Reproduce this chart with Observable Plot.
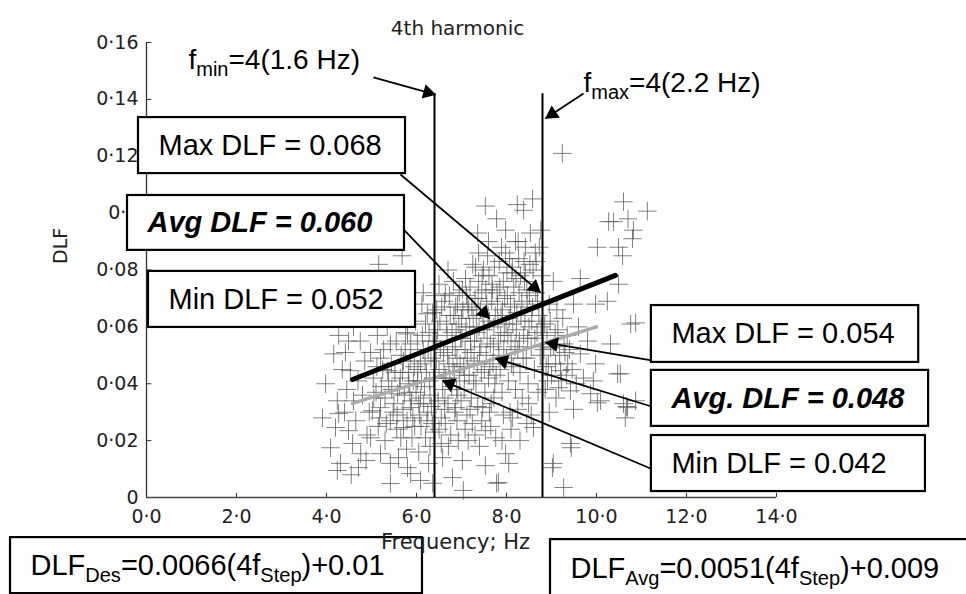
<!DOCTYPE html>
<html><head><meta charset="utf-8">
<script src="https://cdn.jsdelivr.net/npm/d3@7"></script>
<script src="https://cdn.jsdelivr.net/npm/@observablehq/plot@0.6"></script>
<style>body{margin:0;background:#fff} svg{display:block}</style>
</head><body><div id="chart"></div>
<script>
// ---- text ----
const title = "4th harmonic";
const xLabel = "Frequency; Hz";
const yLabel = "DLF";
const xTicks = [0, 2, 4, 6, 8, 10, 12, 14];
const xTickLabels = ["0·0", "2·0", "4·0", "6·0", "8·0", "10·0", "12·0", "14·0"];
const yTicks = [0, 0.02, 0.04, 0.06, 0.08, 0.1, 0.12, 0.14, 0.16];
const yTickLabels = ["0", "0·02", "0·04", "0·06", "0·08", "0·1", "0·12", "0·14", "0·16"];

// ---- scatter (frequency Hz, DLF) ----
const scatter = [
 [3.91,0.028],[3.98,0.040],[4.09,0.0175],[4.16,0.0505],[4.20,0.0246],[4.24,0.034],[4.24,0.0095],[4.27,0.0295],[4.27,0.057],[4.31,0.012],[4.42,0.051],[4.49,0.055],[4.49,0.0235],[4.45,0.038],[4.35,0.045],[4.4,0.03],
 [4.53,0.0446],[4.58,0.019],[4.6,0.034],[4.71,0.0105],[4.76,0.0154],[4.65,0.027],[4.7,0.041],[4.8,0.036],[4.85,0.048],[4.9,0.022],[4.95,0.03],[4.98,0.051],[4.98,0.021],[4.6,0.06],[4.75,0.055],[4.88,0.013],[4.55,0.008],
 [5.02,0.0305],[5.04,0.042],[5.13,0.057],[5.16,0.082],[5.2,0.049],[5.2,0.0316],[5.2,0.0154],[5.1,0.037],[5.15,0.025],[5.25,0.045],[5.3,0.035],[5.3,0.02],[5.36,0.0446],[5.42,0.054],[5.42,0.027],[5.42,0.012],[5.42,0.0049],[5.35,0.06],[5.45,0.038],[5.48,0.03],[5.05,0.063],[5.28,0.066],[5.4,0.072],
 [5.56,0.024],[5.58,0.0365],[5.6,0.0646],[5.64,0.042],[5.64,0.0656],[5.66,0.05],[5.7,0.031],[5.71,0.075],[5.71,0.048],[5.71,0.0246],[5.76,0.058],[5.78,0.017],[5.8,0.0575],[5.8,0.0105],[5.82,0.044],[5.85,0.037],[5.87,0.054],[5.87,0.0316],[5.87,0.0084],[5.9,0.021],[5.92,0.028],[5.95,0.046],[5.55,0.055],[5.6,0.014],[5.98,0.062],[5.68,0.085],
 [6.02,0.055],[6.02,0.041],[6.05,0.033],[6.09,0.047],[6.09,0.035],[6.09,0.006],[6.1,0.025],[6.12,0.068],[6.15,0.052],[6.18,0.039],[6.2,0.021],[6.22,0.044],[6.24,0.0646],[6.25,0.03],[6.27,0.012],[6.28,0.058],[6.3,0.036],[6.32,0.049],[6.35,0.026],[6.36,0.065],[6.36,0.005],[6.38,0.042],[6.05,0.016],[6.15,0.072],[6.3,0.018],[6.2,0.061],[6.4,0.071],
 [6.45,0.055],[6.48,0.034],[6.5,0.045],[6.52,0.062],[6.55,0.028],[6.58,0.014],[6.58,0.038],[6.6,0.051],[6.62,0.069],[6.64,0.0716],[6.64,0.026],[6.65,0.042],[6.68,0.057],[6.7,0.033],[6.72,0.047],[6.75,0.064],[6.76,0.022],[6.78,0.039],[6.8,0.007],[6.8,0.053],[6.82,0.076],[6.84,0.044],[6.85,0.03],[6.87,0.067],[6.87,0.0316],[6.88,0.059],[6.9,0.049],[6.92,0.036],[6.93,0.02],[6.95,0.072],[6.96,0.041],[6.98,0.056],[7.0,0.063],[6.5,0.075],[6.7,0.08],[6.55,0.019],[6.45,0.066],
 [7.02,0.073],[7.02,0.013],[7.04,0.0025],[7.05,0.046],[7.06,0.038],[7.08,0.052],[7.09,0.077],[7.1,0.06],[7.12,0.029],[7.14,0.068],[7.16,0.066],[7.17,0.043],[7.2,0.055],[7.22,0.035],[7.24,0.026],[7.25,0.082],[7.26,0.063],[7.28,0.048],[7.3,0.07],[7.31,0.081],[7.32,0.04],[7.34,0.058],[7.36,0.093],[7.36,0.032],[7.38,0.086],[7.38,0.076],[7.4,0.051],[7.42,0.066],[7.44,0.044],[7.45,0.072],[7.47,0.0316],[7.49,0.08],[7.5,0.059],[7.52,0.037],[7.53,0.0112],[7.53,0.0235],[7.53,0.1025],[7.55,0.05],[7.56,0.068],[7.58,0.085],[7.6,0.09],[7.6,0.042],[7.15,0.02],[7.4,0.018],
 [7.62,0.062],[7.64,0.054],[7.66,0.033],[7.68,0.075],[7.69,0.073],[7.7,0.047],[7.72,0.06],[7.74,0.04],[7.76,0.021],[7.78,0.098],[7.78,0.005],[7.8,0.068],[7.82,0.0053],[7.82,0.055],[7.84,0.083],[7.86,0.045],[7.88,0.064],[7.9,0.037],[7.93,0.076],[7.95,0.058],[7.98,0.086],[7.98,0.0154],[7.98,0.094],[8.0,0.049],[8.02,0.071],[8.04,0.041],[8.06,0.063],[8.08,0.03],[8.1,0.055],[8.12,0.079],[8.13,0.081],[8.13,0.028],[8.15,0.046],[8.18,0.067],[8.2,0.09],[8.2,0.038],[7.65,0.025],[7.9,0.02],[8.05,0.012],
 [8.22,0.059],[8.24,0.103],[8.25,0.052],[8.27,0.084],[8.28,0.072],[8.3,0.044],[8.32,0.064],[8.35,0.035],[8.38,0.101],[8.38,0.057],[8.4,0.076],[8.42,0.088],[8.42,0.079],[8.44,0.049],[8.46,0.068],[8.48,0.04],[8.49,0.033],[8.5,0.06],[8.52,0.082],[8.55,0.053],[8.58,0.105],[8.58,0.067],[8.6,0.0246],[8.62,0.045],[8.64,0.086],[8.65,0.072],[8.68,0.058],[8.7,0.037],[8.72,0.064],[8.75,0.05],[8.76,0.094],[8.78,0.078],[8.3,0.02],[8.55,0.029],
 [8.85,0.061],[8.88,0.046],[8.91,0.041],[8.95,0.068],[8.98,0.0526],[9.02,0.0105],[9.04,0.076],[9.04,0.012],[9.08,0.058],[9.1,0.035],[9.16,0.0386],[9.2,0.0446],[9.24,0.121],[9.25,0.063],[9.27,0.0035],[9.3,0.051],[9.36,0.047],[9.42,0.0375],[9.42,0.019],[9.44,0.0175],[9.49,0.068],[9.49,0.031],[9.12,0.066],[9.35,0.057],[8.95,0.03],
 [9.64,0.077],[9.64,0.0505],[9.71,0.042],[9.8,0.055],[9.87,0.0365],[9.93,0.041],[9.98,0.068],[9.98,0.047],[10.02,0.088],[10.02,0.0333],[10.09,0.034],[10.24,0.069],[10.27,0.097],[10.31,0.054],[10.38,0.097],[10.47,0.0435],[10.49,0.088],[10.49,0.075],[10.53,0.0435],[10.58,0.085],[10.6,0.104],[10.6,0.033],[10.64,0.028],[10.67,0.032],[10.69,0.0316],[10.7,0.098],[10.76,0.061],[10.8,0.091],[10.82,0.094],[10.87,0.034],[10.87,0.0614],[11.13,0.1007],[11.38,0.0516],[9.6,0.06],
 [6.44,0.048],[6.47,0.059],[6.53,0.052],[6.56,0.067],[6.61,0.044],[6.63,0.035],[6.67,0.061],[6.69,0.05],[6.73,0.071],[6.74,0.042],[6.79,0.058],[6.81,0.046],[6.83,0.064],[6.86,0.052],[6.89,0.038],[6.91,0.068],[6.94,0.061],[6.97,0.047],[6.99,0.034],[7.01,0.056],[7.03,0.066],[7.07,0.043],[7.11,0.071],[7.13,0.049],[7.18,0.06],[7.19,0.074],[7.21,0.051],[7.23,0.067],[7.27,0.041],[7.29,0.055],[7.33,0.064],[7.35,0.047],[7.37,0.07],[7.39,0.06],[7.43,0.053],[7.46,0.078],[7.48,0.064],[7.51,0.045],[7.54,0.073],[7.57,0.056],[7.59,0.064],[7.61,0.078],[7.63,0.046],[7.67,0.069],[7.71,0.053],[7.73,0.081],[7.75,0.064],[7.77,0.043],[7.79,0.072],[7.81,0.062],[7.83,0.05],[7.85,0.074],[7.87,0.057],[7.89,0.088],[7.91,0.066],[7.94,0.052],[7.96,0.07],[7.99,0.061],[8.01,0.079],[8.03,0.057],[8.07,0.084],[8.09,0.068],[8.11,0.047],[8.14,0.061],[8.16,0.074],[8.19,0.053],[8.21,0.077],[8.23,0.065],[8.26,0.09],[8.29,0.055],[8.31,0.078],[8.34,0.069],[8.37,0.049],[8.39,0.083],[8.41,0.062],[8.45,0.073],[8.47,0.056],[8.51,0.071],[8.53,0.093],[8.56,0.062],[8.59,0.08],[8.63,0.056],[8.66,0.083],[8.69,0.069],[8.73,0.088],[8.77,0.06],
 [5.05,0.035],[5.12,0.046],[5.18,0.028],[5.22,0.039],[5.27,0.052],[5.33,0.026],[5.38,0.041],[5.44,0.047],[5.5,0.033],[5.52,0.044],[5.57,0.029],[5.62,0.039],[5.65,0.021],[5.69,0.044],[5.73,0.036],[5.75,0.052],[5.79,0.027],[5.83,0.04],[5.86,0.048],[5.89,0.034],[5.93,0.041],[5.96,0.025],[5.99,0.037],[6.03,0.045],[6.07,0.029],[6.11,0.041],[6.13,0.057],[6.16,0.033],[6.19,0.048],[6.23,0.027],[6.26,0.052],[6.29,0.041],[6.33,0.032],[6.37,0.055],[6.39,0.023],
 [8.83,0.052],[8.86,0.038],[8.9,0.057],[8.93,0.047],[8.97,0.062],[9.0,0.043],[9.05,0.053],[9.09,0.047],[9.14,0.059],[9.18,0.05],[9.22,0.041],[9.28,0.054],[9.33,0.043],[9.4,0.052],[9.46,0.045],[9.55,0.04],
 [6.5,0.024],[6.62,0.031],[6.71,0.018],[6.9,0.027],[7.08,0.024],[7.19,0.031],[7.3,0.022],[7.45,0.027],[7.62,0.03],[7.72,0.035],[7.93,0.029],[8.1,0.024],[8.25,0.031],[8.45,0.026]
];

// ---- fitted lines (endpoints) ----
const desLineX = [4.58, 10.42];
const desLineY = [0.0415, 0.0781];
const avgLineX = [4.58, 10.0];
const avgLineY = [0.0331, 0.060];

// ---- frequency bounds ----
const boundFreq = [6.4, 8.8];
const boundTop = [0.142, 0.142];
const fLabels = ["f_{min}=4(1.6 Hz)", "f_{max}=4(2.2 Hz)"];
const fLabelX = [0.933, 9.711];
const fLabelY = [0.154, 0.1456];

// ---- annotation boxes ----
const boxLabels = ["Max DLF = 0.068", "Avg DLF = 0.060", "Min DLF = 0.052",
  "Max DLF = 0.054", "Avg. DLF = 0.048", "Min DLF = 0.042",
  "DLF_{Des}=0.0066(4f_{Step})+0.01", "DLF_{Avg}=0.0051(4f_{Step})+0.009"];
const boxLeft   = [-0.178, -0.422, 0.044, 11.22, 11.22, 11.22, -3.022, 8.978];
const boxRight  = [5.756, 5.733, 5.978, 17.16, 17.38, 17.31, 6.133, 18.6];
const boxBottom = [0.1139, 0.0869, 0.0598, 0.0475, 0.0250, 0.0021, -0.0338, -0.038];
const boxTop    = [0.1336, 0.1062, 0.0795, 0.0675, 0.0447, 0.0218, -0.0141, -0.0148];
const boxBold   = [false, true, false, false, true, false, false, false];
const boxTextMid = [0.12375, 0.0966, 0.0697, 0.0575, 0.0349, 0.0120, -0.0240, -0.0252];

// ---- arrows (from box to target) ----
const arrowX1 = [5.644, 5.733, 11.222, 11.222, 11.2, 5.044, 9.711];
const arrowY1 = [0.1136, 0.0939, 0.0482, 0.0320, 0.0102, 0.1477, 0.1421];
const arrowX2 = [8.756, 7.622, 8.867, 7.756, 6.578, 6.422, 8.867];
const arrowY2 = [0.0721, 0.0629, 0.0545, 0.0489, 0.0411, 0.1417, 0.1333];

// ---- layout ----
const W = 966, H = 594, mL = 146, mR = 190, mT = 42, mB = 97;
const xDomain = [0, 14], yDomain = [0, 0.16];
const kx = (W - mL - mR) / (xDomain[1] - xDomain[0]);
const ky = (H - mT - mB) / (yDomain[1] - yDomain[0]);

const boxes = boxLabels.map((label, i) => ({label, x1: boxLeft[i], x2: boxRight[i], y1: boxBottom[i], y2: boxTop[i], bold: boxBold[i], ym: boxTextMid[i]}));
const arrows = arrowX1.map((x1, i) => ({x1, y1: arrowY1[i], x2: arrowX2[i], y2: arrowY2[i]}));
const heads = arrows.map(a => {
  const dxp = (a.x2 - a.x1) * kx, dyp = -(a.y2 - a.y1) * ky;
  const len = Math.hypot(dxp, dyp), ux = dxp / len, uy = dyp / len, back = 8;
  return {x: a.x2 - back * ux / kx, y: a.y2 + back * uy / ky, rotate: Math.atan2(ux, -uy) * 180 / Math.PI};
});
const desLine = desLineX.map((x, i) => ({x, y: desLineY[i]}));
const avgLine = avgLineX.map((x, i) => ({x, y: avgLineY[i]}));
const bounds = boundFreq.map((x, i) => ({x, top: boundTop[i]}));
const fLab = fLabels.map((t, i) => ({t, x: fLabelX[i], y: fLabelY[i]}));

const boxFont = "Liberation Sans, Arial, sans-serif";
const chart = Plot.plot({
  width: W, height: H, marginLeft: mL, marginRight: mR, marginTop: mT, marginBottom: mB,
  style: {fontFamily: "DejaVu Sans, sans-serif", fontSize: "19px", color: "#000", background: "#fff"},
  x: {domain: xDomain, label: null},
  y: {domain: yDomain, label: null},
  marks: [
    Plot.axisX(xTicks, {tickSize: 0, tickPadding: 12, tickFormat: d => xTickLabels[xTicks.indexOf(d)], fontSize: 19, fill: "#222"}),
    Plot.axisY(yTicks, {tickSize: 0, tickPadding: 8, tickFormat: d => yTickLabels[yTicks.indexOf(d)], fontSize: 19, fill: "#222"}),
    Plot.ruleX(xTicks, {x: d => d, y1: 0, y2: 0.0015, stroke: "#333"}),
    Plot.ruleY(yTicks, {y: d => d, x1: 0, x2: 0.12, stroke: "#333"}),
    Plot.ruleX([0], {y1: 0, y2: 0.16, stroke: "#333", strokeWidth: 1.3}),
    Plot.ruleY([0], {x1: 0, x2: 14, stroke: "#444", strokeWidth: 1.3}),
    Plot.dot(scatter, {x: d => d[0], y: d => d[1], symbol: "plus", r: 6, stroke: "#555", strokeOpacity: 0.75, strokeWidth: 1}),
    Plot.line(avgLine, {x: "x", y: "y", stroke: "#ababab", strokeWidth: 3.5}),
    Plot.ruleX(bounds, {x: "x", y1: 0, y2: "top", stroke: "#000", strokeWidth: 2}),
    Plot.line(desLine, {x: "x", y: "y", stroke: "#000", strokeWidth: 5}),
    Plot.link(arrows, {x1: "x1", y1: "y1", x2: "x2", y2: "y2", stroke: "#000", strokeWidth: 1.8}),
    Plot.dot(heads, {x: "x", y: "y", rotate: "rotate", symbol: "triangle", r: 5.5, fill: "#000", stroke: "none"}),
    Plot.rect(boxes, {x1: "x1", x2: "x2", y1: "y1", y2: "y2", fill: "#fff", stroke: "#000", strokeWidth: 2.2}),
    Plot.text(boxes.filter(d => !d.bold), {x: "x1", y: "ym", text: "label", textAnchor: "start", dx: 20, fontSize: 29, fontFamily: boxFont, fill: "#000"}),
    Plot.text(boxes.filter(d => d.bold), {x: "x1", y: "ym", text: "label", textAnchor: "start", dx: 20, fontSize: 29, fontFamily: boxFont, fontWeight: "bold", fontStyle: "italic", fill: "#000"}),
    Plot.text(fLab, {x: "x", y: "y", text: "t", textAnchor: "start", fontSize: 28, fontFamily: boxFont, fill: "#000"}),
    Plot.text([title], {frameAnchor: "top", dy: -22, dx: -4, fontSize: 20, fill: "#222"}),
    Plot.text([xLabel], {frameAnchor: "bottom", dy: 51, dx: -6, fontSize: 21, fill: "#222"}),
    Plot.text([yLabel], {frameAnchor: "left", dx: -86, dy: -6, rotate: -90, fontSize: 19, fill: "#222"})
  ]
});
document.getElementById("chart").appendChild(chart);

// subscripts: turn "_{...}" into lowered, smaller tspans
const NS = "http://www.w3.org/2000/svg";
chart.querySelectorAll("text").forEach(t => {
  const s = t.textContent;
  if (!s.includes("_{")) return;
  const parts = s.split(/_\{([^}]*)\}/);
  while (t.firstChild) t.removeChild(t.firstChild);
  let lowered = false;
  parts.forEach((p, i) => {
    if (!p) return;
    const ts = document.createElementNS(NS, "tspan");
    ts.textContent = p;
    if (i % 2 === 1) {
      ts.setAttribute("font-size", "20");
      ts.setAttribute("dy", "7");
      lowered = true;
    } else if (lowered) {
      ts.setAttribute("dy", "-7");
      lowered = false;
    }
    t.appendChild(ts);
  });
});
</script>
</body></html>
